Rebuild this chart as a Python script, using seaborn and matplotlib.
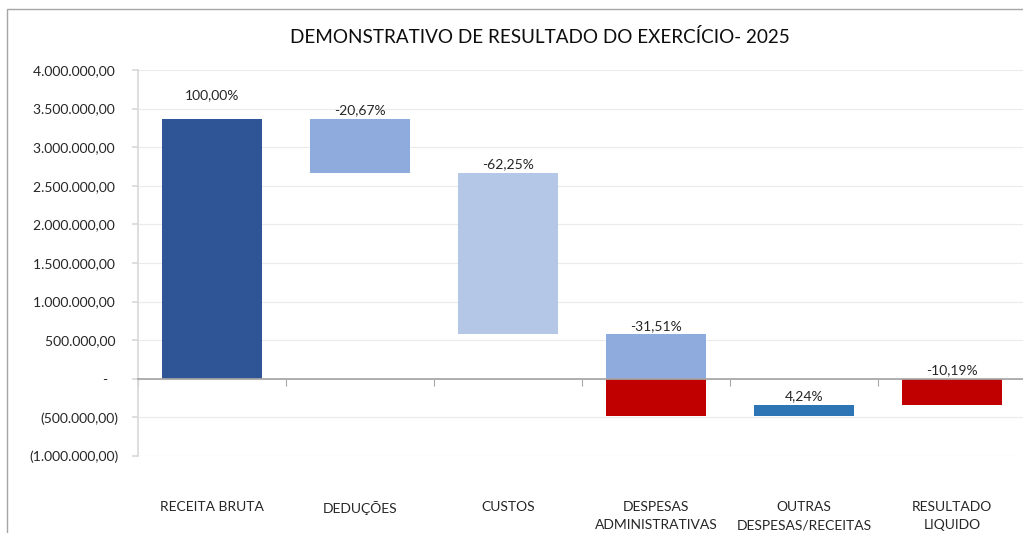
import matplotlib
matplotlib.use("Agg")
import matplotlib.pyplot as plt
from matplotlib.patches import Rectangle
import matplotlib.ticker as mticker
import numpy as np
import pandas as pd
import seaborn as sns

# dados
categorias = ["RECEITA BRUTA", "DEDUÇÕES", "CUSTOS", "DESPESAS\nADMINISTRATIVAS",
              "OUTRAS\nDESPESAS/RECEITAS", "RESULTADO\nLIQUIDO"]
valores = [3360000, -694500, -2091600, -1058700, 142500, -342300]  # ultimo = resultado (total)
percentuais = ["100,00%", "-20,67%", "-62,25%", "-31,51%", "4,24%", "-10,19%"]
cores = ["#2F5597", "#8FAADC", "#B4C7E7", "#8FAADC", "#2E75B6", "#C00000"]
cor_negativo = "#C00000"
y_ticks = np.arange(-1000000, 4000001, 500000)
titulo = "DEMONSTRATIVO DE RESULTADO DO EXERCÍCIO- 2025"


def formata_brl(v, pos=None):
    # formato contabil do Excel: positivos com espaco no lugar do ")"
    if abs(v) < 1:
        return "-   "
    s = f"{abs(v):,.2f}".replace(",", "X").replace(".", ",").replace("X", ".")
    return f"({s})" if v < 0 else s + " "


# monta os segmentos da cascata
camada1, camada2 = [], []
acumulado = 0
for i, (cat, v) in enumerate(zip(categorias, valores)):
    if i == len(categorias) - 1:
        ini, fim = 0, v
    else:
        ini, fim = acumulado, acumulado + v
        acumulado = fim
    baixo, alto = min(ini, fim), max(ini, fim)
    if v < 0 and baixo < 0 < alto:
        camada1.append((cat, 0, alto, cores[i]))
        camada2.append((cat, baixo, -baixo, cor_negativo))
    else:
        cor = cor_negativo if (v < 0 and alto <= 0) else cores[i]
        camada1.append((cat, baixo, alto - baixo, cor))

sns.set_theme(style="white")
plt.rcParams["font.family"] = ["Lato", "DejaVu Sans"]

fig = plt.figure(figsize=(10.23, 5.33), dpi=100)
ax = fig.add_axes([138 / 1023, 1 - 456 / 533, 1.003 - 138 / 1023, (456 - 70) / 533])

for camada in (camada1, camada2):
    df = pd.DataFrame(camada, columns=["categoria", "base", "altura", "cor"])
    n0 = len(ax.patches)
    sns.barplot(data=df, x="categoria", y="altura", order=categorias, bottom=df["base"].values,
                color=df["cor"].iloc[0], saturation=1, width=0.675, errorbar=None,
                linewidth=0, ax=ax)
    for p, c in zip(ax.patches[n0:], df["cor"]):
        p.set_facecolor(c)
        p.set_edgecolor(c)

# rotulos de percentual
topos = {}
for cat, b, h, c in camada1 + camada2:
    topos[cat] = max(topos.get(cat, -1e12), b + h)
for i, cat in enumerate(categorias):
    desloc = 13 if i == 0 else 2
    ax.annotate(percentuais[i], (i, topos[cat]), xytext=(0, desloc), textcoords="offset points",
                ha="center", va="bottom", fontsize=10, color="#262626")

ax.set_xlim(-0.5, 5.5)
ax.set_ylim(-1000000, 4000000)
ax.set_yticks(y_ticks)
ax.yaxis.set_major_formatter(mticker.FuncFormatter(formata_brl))
ax.yaxis.grid(True, color="#EBEBEB", lw=0.8)
ax.set_axisbelow(True)
ax.set_xlabel("")
ax.set_ylabel("")

for s in ("top", "right"):
    ax.spines[s].set_visible(False)
ax.spines["bottom"].set_position(("data", 0))
ax.spines["bottom"].set_color("#A6A6A6")
ax.spines["left"].set_color("#D9D9D9")

ax.set_xticks(np.arange(-0.5, 6, 1), minor=True)
ax.tick_params(axis="x", which="minor", bottom=True, length=5, color="#A6A6A6", width=0.8)
ax.tick_params(axis="x", which="major", bottom=True, length=0, pad=88, labelsize=10,
               labelcolor="#262626")
for t in ax.get_xticklabels():
    t.set_linespacing(1.6)
ax.tick_params(axis="y", left=True, length=4, color="#D9D9D9", pad=10, labelsize=10,
               labelcolor="#262626")

fig.text(540 / 1023, 1 - 37 / 533, titulo, ha="center", va="center", fontsize=13.6, color="#0D0D0D")
fig.add_artist(Rectangle((7 / 1023, -0.05), 1.5, 1 - 9 / 533 + 0.05, transform=fig.transFigure,
                         fill=False, edgecolor="#A6A6A6", lw=1))

fig.savefig("out.png", dpi=100)
